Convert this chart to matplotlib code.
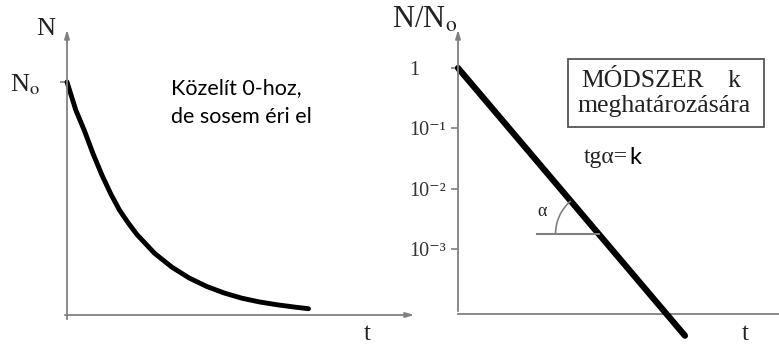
import matplotlib
matplotlib.use("Agg")
import matplotlib.pyplot as plt
import numpy as np
from matplotlib.patches import Arc, Rectangle
from matplotlib.transforms import IdentityTransform

plt.rcParams['mathtext.fontset'] = 'stix'

# left panel: N(t) decay curve (N in units of N0)
decay_t = [0.0, 0.25, 0.5, 0.75, 1.0, 1.25, 1.5, 1.75, 2.0, 2.5, 3.0,
           3.5, 4.0, 4.5, 5.0, 5.5, 6.0, 6.5, 6.9]
decay_n = [1.0, 0.88, 0.79, 0.69, 0.60, 0.52, 0.45, 0.395, 0.345, 0.265, 0.205,
           0.158, 0.122, 0.094, 0.072, 0.056, 0.044, 0.034, 0.027]

# right panel: log N/N0 straight line
line_t = [0.0, 7.07]
line_n = [1.0, 10 ** -4.44]
log_ticks = [1, 1e-1, 1e-2, 1e-3]
log_tick_labels = ['1', '10⁻¹', '10⁻²', '10⁻³']
angle_t0 = 2.46
angle_n = 10 ** -2.75

W, H = 779, 351
SERIF = 'Liberation Serif'
SANS = 'Lato'
GRAY = '#808080'
TXT = '#222222'


def box(x0, y0, x1, y1):
    return [x0 / W, 1 - y1 / H, (x1 - x0) / W, (y1 - y0) / H]


def px(x, y):
    return x / W, 1 - y / H


fig = plt.figure(figsize=(W / 100, H / 100), dpi=100)

# ---- left panel ----
ax1 = fig.add_axes(box(67, 27, 417, 315))
ax1.set_xlim(0, 10)
ax1.set_ylim(0, 1.236)
for s in ax1.spines.values():
    s.set_visible(False)
arrow = dict(arrowstyle='-|>,head_length=0.5,head_width=0.15', color=GRAY, lw=1.3)
ax1.annotate('', xy=(0, 1.0), xytext=(0, -0.024), xycoords='axes fraction', arrowprops=arrow)
ax1.annotate('', xy=(1.0, 0), xytext=(-0.014, 0), xycoords='axes fraction', arrowprops=arrow)
ax1.plot(decay_t, decay_n, color='black', lw=3.5, solid_capstyle='round',
         solid_joinstyle='round', clip_on=False)
ax1.set_xticks([])
ax1.set_yticks([1])
ax1.set_yticklabels([r'N$_{\mathrm{o}}$'], fontfamily=SERIF, fontsize=19, color=TXT)
ax1.tick_params(axis='y', length=5, width=1.2, color=GRAY, pad=14)

fig.text(*px(46, 29), 'N', fontfamily=SERIF, fontsize=19, color=TXT, ha='center', va='center')
fig.text(*px(171, 88), 'Közelít 0-hoz,', fontfamily=SANS, fontsize=15.5, color='black', ha='left', va='center')
fig.text(*px(171, 117), 'de sosem éri el', fontfamily=SANS, fontsize=15.5, color='black', ha='left', va='center')
fig.text(*px(367, 334), 't', fontfamily=SERIF, fontsize=18, color=TXT, ha='center', va='center')

# ---- right panel ----
ax2 = fig.add_axes(box(458, 27, 779, 314))
ax2.set_yscale('log')
ax2.set_xlim(0, 10)
ax2.set_ylim(10 ** -4.08, 10 ** 0.68)
for s in ax2.spines.values():
    s.set_visible(False)
ax2.annotate('', xy=(0, 1.0), xytext=(0, 0), xycoords='axes fraction', arrowprops=arrow)
ax2.plot([0, 1.0], [0, 0], color=GRAY, lw=1.3, transform=ax2.transAxes, clip_on=False)
ax2.plot(line_t, line_n, color='black', lw=4.5, solid_capstyle='round', clip_on=False)
ax2.set_xticks([])
ax2.set_yticks(log_ticks)
ax2.set_yticklabels(log_tick_labels, fontfamily=[SERIF, 'DejaVu Serif'], fontsize=14.5,
                    color='#333333', ha='left')
ax2.yaxis.set_minor_locator(matplotlib.ticker.NullLocator())
ax2.tick_params(axis='y', length=5, width=1.2, color=GRAY, pad=30)

# angle marker
t_int = line_t[1] * np.log10(angle_n) / np.log10(line_n[1])
ax2.plot([angle_t0, t_int], [angle_n, angle_n], color=GRAY, lw=1.5)
cx, cy = ax2.transData.transform((t_int, angle_n))
p0 = ax2.transData.transform((line_t[0], line_n[0]))
p1 = ax2.transData.transform((line_t[1], line_n[1]))
ang = np.degrees(np.arctan2(p0[1] - p1[1], p0[0] - p1[0]))
fig.patches.append(Arc((cx, cy), 86, 86, theta1=ang, theta2=180, color=GRAY, lw=1.2,
                       transform=IdentityTransform(), figure=fig))
fig.text(*px(542, 212), 'α', fontfamily=SERIF, fontsize=13, color=TXT, ha='center', va='center')

fig.text(*px(745, 334), 't', fontfamily=SERIF, fontsize=18, color=TXT, ha='center', va='center')
fig.text(*px(392, 20), r'N/N$_{\mathrm{o}}$', fontfamily=SERIF, fontsize=22, color=TXT, ha='left', va='center')

# method box
fig.patches.append(Rectangle(px(568, 127), 196 / W, 68 / H, transform=fig.transFigure,
                             fill=False, edgecolor='#555555', lw=1.3, figure=fig))
fig.text(*px(581, 81), 'MÓDSZER', fontfamily=SERIF, fontsize=18.5, color=TXT, ha='left', va='center')
fig.text(*px(740, 81), 'k', fontfamily=SERIF, fontsize=18.5, color=TXT, ha='right', va='center')
fig.text(*px(578, 106), 'meghatározására', fontfamily=SERIF, fontsize=18.5, color=TXT, ha='left', va='center')
fig.text(*px(584, 157), 'tgα=', fontfamily=SERIF, fontsize=17, color=TXT, ha='left', va='center')
fig.text(*px(629, 157), 'k', fontfamily=SANS, fontsize=17, color='black', ha='left', va='center')

fig.savefig('out.png', dpi=100)
